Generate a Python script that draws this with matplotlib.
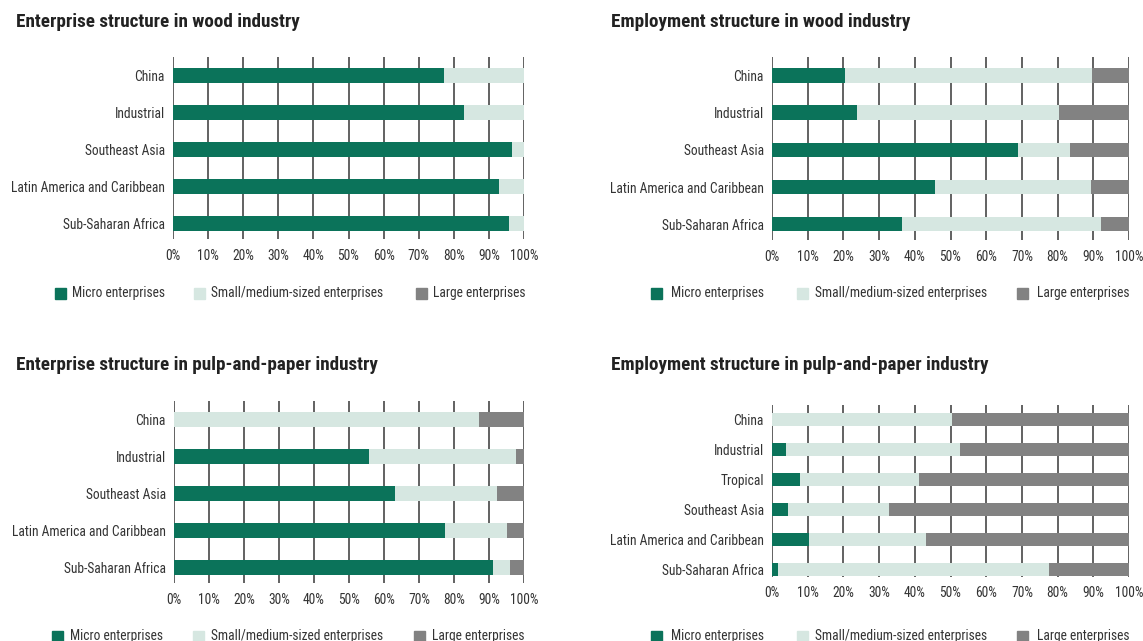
import os
import matplotlib
matplotlib.use("Agg")
import matplotlib.pyplot as plt
from matplotlib.patches import Rectangle
from matplotlib import font_manager as fm
from matplotlib.font_manager import FontProperties
from matplotlib.textpath import TextPath

W, H = 1143, 641
series = ["Micro enterprises", "Small/medium-sized enterprises", "Large enterprises"]
colors = ["#0b735a", "#d6e7e1", "#828282"]

# Panel 1: Enterprise structure in wood industry
cats_a = ["China", "Industrial", "Southeast Asia", "Latin America and Caribbean", "Sub-Saharan Africa"]
ent_wood_micro = [77.2, 82.9, 96.7, 92.8, 95.8]
ent_wood_small = [22.8, 17.1, 3.3, 7.2, 4.2]
ent_wood_large = [0, 0, 0, 0, 0]

# Panel 2: Employment structure in wood industry
emp_wood_micro = [20.4, 23.7, 69.0, 45.6, 36.4]
emp_wood_small = [69.3, 56.8, 14.6, 43.8, 55.7]
emp_wood_large = [10.3, 19.5, 16.4, 10.6, 7.9]

# Panel 3: Enterprise structure in pulp-and-paper industry
ent_pulp_micro = [0, 55.7, 63.1, 77.3, 91.1]
ent_pulp_small = [87.2, 41.9, 29.1, 17.8, 5.0]
ent_pulp_large = [12.8, 2.4, 7.8, 4.9, 3.9]

# Panel 4: Employment structure in pulp-and-paper industry
cats_b = ["China", "Industrial", "Tropical", "Southeast Asia", "Latin America and Caribbean", "Sub-Saharan Africa"]
emp_pulp_micro = [0, 3.8, 7.8, 4.5, 10.5, 1.7]
emp_pulp_small = [50.3, 49.0, 33.4, 28.4, 32.7, 75.9]
emp_pulp_large = [49.7, 47.2, 58.8, 67.1, 56.8, 22.4]

ticks = list(range(0, 101, 10))
tick_labels = [f"{t}%" for t in ticks]

titles = ["Enterprise structure in wood industry",
          "Employment structure in wood industry",
          "Enterprise structure in pulp-and-paper industry",
          "Employment structure in pulp-and-paper industry"]

# ---- pick a condensed font if one is available ----
files = [f.fname for f in fm.fontManager.ttflist]
def find(cands):
    for c in cands:
        for f in files:
            if os.path.basename(f).lower() == c.lower():
                return f
    return None

reg_file = find(["RobotoCondensed-Regular.ttf", "LiberationSansNarrow-Regular.ttf",
                 "DejaVuSansCondensed.ttf"])
bold_file = find(["RobotoCondensed-Bold.ttf", "LiberationSansNarrow-Bold.ttf",
                  "DejaVuSansCondensed-Bold.ttf"])
fp_reg = FontProperties(fname=reg_file) if reg_file else FontProperties(family="DejaVu Sans")
fp_bold = FontProperties(fname=bold_file) if bold_file else FontProperties(family="DejaVu Sans", weight="bold")

def width_px(s, fp, size):
    p = fp.copy()
    p.set_size(size)
    return TextPath((0, 0), s, prop=p).get_extents().width * 100 / 72

# size fonts so that key strings match reference widths
lab_size = 9.0 * 152 / width_px("Latin America and Caribbean", fp_reg, 9.0)
tit_size = 11.0 * 283 / width_px("Enterprise structure in wood industry", fp_bold, 11.0)
fp_lab = fp_reg.copy(); fp_lab.set_size(lab_size)
fp_tit = fp_bold.copy(); fp_tit.set_size(tit_size)

fig = plt.figure(figsize=(W / 100, H / 100), dpi=100)
fig.patch.set_facecolor("white")

def fx(px):
    return px / W

def fy(py):
    return 1 - py / H

panels = [
    dict(cats=cats_a, data=[ent_wood_micro, ent_wood_small, ent_wood_large],
         box=(173, 524, 57.3, 239), ylim=(4.43, -0.5), bh=0.40, title=(16, 22),
         leg_y=293, leg_sq=(55, 194, 416), leg_tx=(72, 211, 433)),
    dict(cats=cats_a, data=[emp_wood_micro, emp_wood_small, emp_wood_large],
         box=(772, 1129, 57.3, 240), ylim=(4.43, -0.5), bh=0.40, title=(611, 22),
         leg_y=293, leg_sq=(651, 797, 1017), leg_tx=(671, 815, 1037)),
    dict(cats=cats_a, data=[ent_pulp_micro, ent_pulp_small, ent_pulp_large],
         box=(174, 524, 401, 583), ylim=(4.43, -0.5), bh=0.40, title=(16, 365),
         leg_y=636, leg_sq=(52, 193, 414), leg_tx=(70, 211, 432)),
    dict(cats=cats_b, data=[emp_pulp_micro, emp_pulp_small, emp_pulp_large],
         box=(772, 1129, 405, 576.7), ylim=(5.23, -0.49), bh=0.42, title=(611, 365),
         leg_y=636, leg_sq=(651, 797, 1017), leg_tx=(671, 815, 1037)),
]

txtcol = "#333333"
for p, title in zip(panels, titles):
    l, r, t, b = p["box"]
    ax = fig.add_axes([fx(l), fy(b), fx(r) - fx(l), fy(t) - fy(b)])
    y = list(range(len(p["cats"])))
    left = [0] * len(y)
    for vals, col, name in zip(p["data"], colors, series):
        ax.barh(y, vals, left=left, height=p["bh"], color=col, zorder=3, label=name)
        left = [a + v for a, v in zip(left, vals)]
    for tk in ticks:
        ax.axvline(tk, color="#555555", lw=1.3, zorder=1)
    ax.set_xlim(0, 100)
    ax.set_ylim(*p["ylim"])
    ax.set_xticks(ticks)
    ax.set_xticklabels(tick_labels, fontproperties=fp_lab, color=txtcol)
    ax.set_yticks(y)
    ax.set_yticklabels(p["cats"], fontproperties=fp_lab, color=txtcol)
    ax.tick_params(axis="both", length=0)
    ax.tick_params(axis="x", pad=7)
    ax.tick_params(axis="y", pad=6)
    for s in ax.spines.values():
        s.set_visible(False)
    ax.set_facecolor("none")
    fig.text(fx(p["title"][0]), fy(p["title"][1]), title, fontproperties=fp_tit,
             color="#222222", va="center", ha="left")
    sq = 11
    for xs, xt, col, name in zip(p["leg_sq"], p["leg_tx"], colors, series):
        fig.patches.append(Rectangle((fx(xs), fy(p["leg_y"] + sq / 2)), sq / W, sq / H,
                                     transform=fig.transFigure, color=col, figure=fig))
        fig.text(fx(xt), fy(p["leg_y"]), name, fontproperties=fp_lab, color=txtcol,
                 va="center", ha="left")

fig.savefig("out.png", dpi=100)
